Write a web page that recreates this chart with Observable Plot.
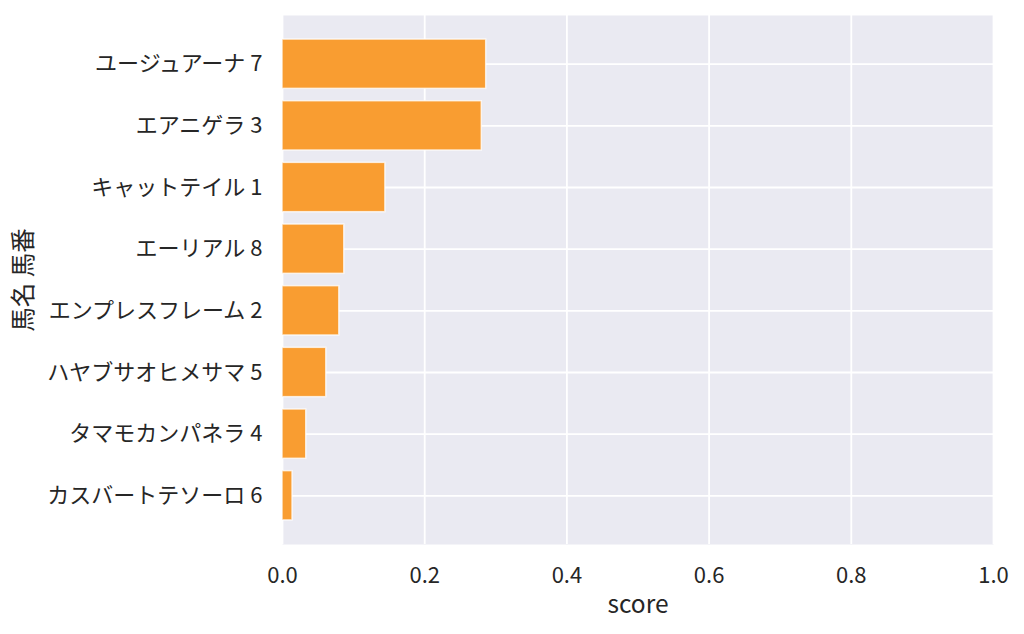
<!DOCTYPE html>
<html>
<head>
<meta charset="utf-8">
<script src="https://cdn.jsdelivr.net/npm/d3@7"></script>
<script src="https://cdn.jsdelivr.net/npm/@observablehq/plot@0.6"></script>
<style>
  html, body { margin: 0; padding: 0; background: #fff; }
  #chart svg { display: block; }
</style>
</head>
<body>
<div id="chart"></div>
<script>
const horseNames = ["ユージュアーナ", "エアニゲラ", "キャットテイル", "エーリアル", "エンプレスフレーム", "ハヤブサオヒメサマ", "タマモカンパネラ", "カスバートテソーロ"];
const horseNumbers = [7, 3, 1, 8, 2, 5, 4, 6];
const scores = [0.2865, 0.2803, 0.1447, 0.0869, 0.0799, 0.0616, 0.0334, 0.0141];
const xTicks = [0, 0.2, 0.4, 0.6, 0.8, 1.0];
const xLabel = "score";
const yLabel = "馬名 馬番";

const data = horseNames.map((n, i) => ({label: `${n} ${horseNumbers[i]}`, score: scores[i]}));
const order = data.map(d => d.label);

const chart = Plot.plot({
  width: 1024,
  height: 634,
  marginTop: 15,
  marginBottom: 90,
  marginLeft: 282,
  marginRight: 31,
  style: {fontFamily: "'Noto Sans CJK JP', 'Noto Sans', sans-serif", fontSize: "22px", color: "#262626", background: "#fff"},
  x: {domain: [0, 1], ticks: xTicks, tickFormat: d3.format(".1f"), label: null},
  y: {domain: order, paddingInner: 0.2, paddingOuter: 0.39, round: false, label: null},
  marks: [
    Plot.frame({fill: "#EAEAF2", stroke: null}),
    Plot.gridX(xTicks, {stroke: "#fff", strokeOpacity: 1, strokeWidth: 1.8}),
    Plot.gridY(order, {stroke: "#fff", strokeOpacity: 1, strokeWidth: 1.8}),
    Plot.barX(data, {x: "score", y: "label", fill: "#F99D31", stroke: "#FFFFFF", strokeOpacity: 0.75, strokeWidth: 1.5}),
    Plot.axisX(xTicks, {tickSize: 0, tickPadding: 23, tickFormat: d3.format(".1f"), label: null, fill: "#262626", fontSize: 22}),
    Plot.axisY(order, {tickSize: 0, tickPadding: 20, label: null, fill: "#262626", fontSize: 22}),
    Plot.text([xLabel], {frameAnchor: "bottom", dy: 61, lineAnchor: "middle", fill: "#262626", fontSize: 24.5}),
    Plot.text([yLabel], {frameAnchor: "left", dx: -258, rotate: -90, lineAnchor: "middle", textAnchor: "middle", fill: "#262626", fontSize: 24.5})
  ]
});
document.getElementById("chart").appendChild(chart);
</script>
</body>
</html>
